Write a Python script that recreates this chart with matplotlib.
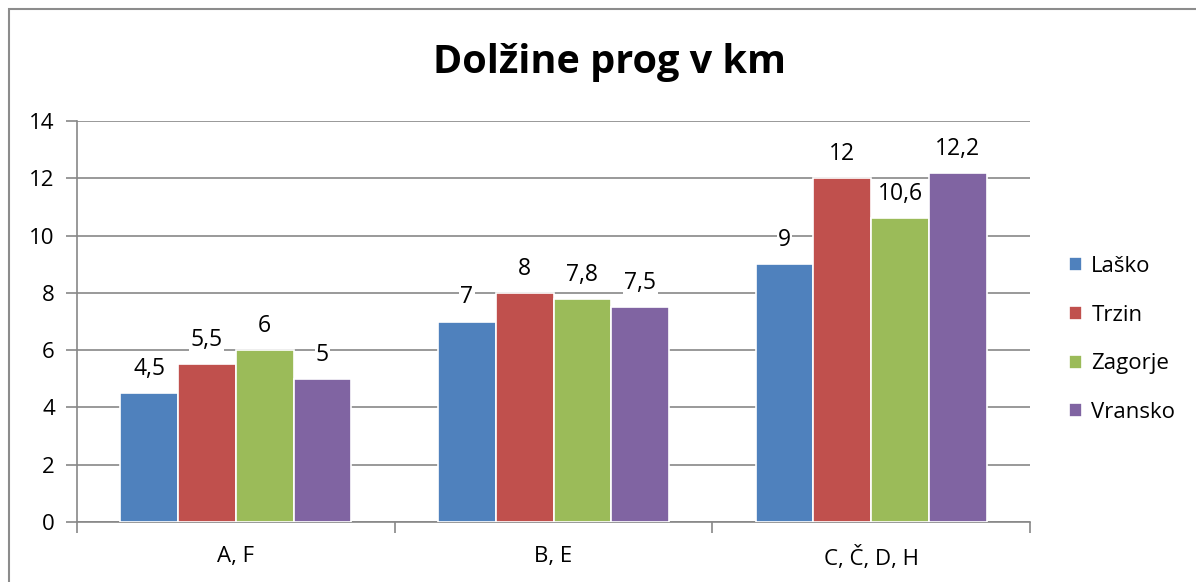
import numpy as np
import matplotlib.pyplot as plt
from matplotlib.patches import Rectangle

categories = ["A, F", "B, E", "C, Č, D, H"]
series = ["Laško", "Trzin", "Zagorje", "Vransko"]
lasko = [4.5, 7, 9]
trzin = [5.5, 8, 12]
zagorje = [6, 7.8, 10.6]
vransko = [5, 7.5, 12.2]
colors = ["#4F81BD", "#C0504D", "#9BBB59", "#8064A2"]

plt.rcParams['font.family'] = ['Open Sans', 'DejaVu Sans']

fig = plt.figure(figsize=(11.96, 5.82), dpi=100)
ax = fig.add_axes([77 / 1196, 60 / 582, 953 / 1196, 401 / 582])

# outer border (only top/left visible in reference)
fig.patches.append(Rectangle((9 / 1196, -0.1), 1.2, 0.1 + 573 / 582,
                             transform=fig.transFigure, fill=False,
                             edgecolor="#8c8c8c", linewidth=1.5))

x = np.arange(len(categories))
bw = 0.182
values = [lasko, trzin, zagorje, vransko]
for i, (name, vals) in enumerate(zip(series, values)):
    pos = x + (i - 1.5) * bw
    bars = ax.bar(pos, vals, width=bw, color=colors[i], edgecolor="white",
                  linewidth=1.2, label=name, zorder=3)
    for b, v in zip(bars, vals):
        txt = ("%g" % v).replace(".", ",")
        ax.text(b.get_x() + b.get_width() / 2, v + 0.42, txt, ha="center",
                va="bottom", fontsize=16.5, zorder=4,
                bbox=dict(facecolor="white", edgecolor="none", pad=1))

ax.set_xlim(-0.5, 2.5)
ax.set_ylim(0, 14)
ax.set_yticks(range(0, 15, 2))
ax.set_xticks(x)
ax.set_xticklabels(categories)
ax.set_xticks([-0.5, 0.5, 1.5, 2.5], minor=True)
ax.tick_params(axis="x", which="major", length=0, pad=17, labelsize=16)
ax.tick_params(axis="x", which="minor", length=8, color="#878787", width=1.2)
ax.tick_params(axis="y", length=8, color="#878787", width=1.2, labelsize=16, pad=8)
ax.grid(axis="y", color="#878787", linewidth=1.2, zorder=0)
for s in ["top", "right"]:
    ax.spines[s].set_visible(False)
for s in ["left", "bottom"]:
    ax.spines[s].set_color("#878787")
    ax.spines[s].set_linewidth(1.2)

fig.text(609 / 1196, 1 - 62 / 582, "Dolžine prog v km", ha="center", va="center",
         fontsize=28.5, fontweight="bold")

leg = ax.legend(loc="center left", bbox_to_anchor=(1.02, 0.455), frameon=False,
                fontsize=16, handlelength=0.6, handleheight=0.6,
                handletextpad=0.4, labelspacing=1.25)

fig.savefig("out.png", dpi=100)
